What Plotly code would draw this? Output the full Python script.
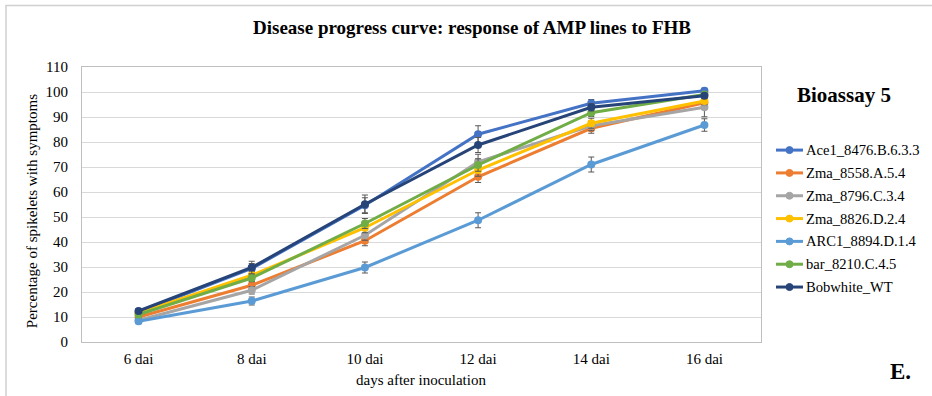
import plotly.graph_objects as go

# Days after inoculation
days = ["6 dai", "8 dai", "10 dai", "12 dai", "14 dai", "16 dai"]

# Percentage of spikelets with symptoms per line
ace1_8476 = [12.0, 29.4, 54.7, 83.1, 95.5, 100.5]
zma_8558 = [10.0, 22.7, 40.5, 66.1, 85.5, 95.7]
zma_8796 = [8.7, 20.7, 42.7, 72.1, 86.5, 93.9]
zma_8826 = [11.6, 26.7, 45.7, 68.8, 87.5, 96.4]
arc1_8894 = [8.3, 16.4, 29.8, 48.7, 71.0, 86.8]
bar_8210 = [11.0, 25.6, 47.4, 70.8, 91.7, 99.0]
bobwhite_wt = [12.4, 29.8, 55.1, 78.8, 93.9, 98.5]

# Standard errors
ace1_8476_se = [1.0, 2.0, 3.0, 3.4, 1.5, 1.0]
zma_8558_se = [1.0, 1.5, 2.0, 2.3, 2.0, 1.5]
zma_8796_se = [1.0, 1.5, 2.0, 3.0, 2.0, 3.8]
zma_8826_se = [1.0, 1.5, 2.0, 2.5, 2.0, 1.5]
arc1_8894_se = [1.0, 1.6, 2.2, 3.0, 3.0, 2.5]
bar_8210_se = [1.0, 1.5, 2.0, 2.5, 1.5, 1.0]
bobwhite_wt_se = [1.0, 2.5, 3.7, 3.0, 1.5, 1.0]

series = [
    ("Ace1_8476.B.6.3.3", ace1_8476, ace1_8476_se, "#4472C4"),
    ("Zma_8558.A.5.4", zma_8558, zma_8558_se, "#ED7D31"),
    ("Zma_8796.C.3.4", zma_8796, zma_8796_se, "#A5A5A5"),
    ("Zma_8826.D.2.4", zma_8826, zma_8826_se, "#FFC000"),
    ("ARC1_8894.D.1.4", arc1_8894, arc1_8894_se, "#5B9BD5"),
    ("bar_8210.C.4.5", bar_8210, bar_8210_se, "#70AD47"),
    ("Bobwhite_WT", bobwhite_wt, bobwhite_wt_se, "#264478"),
]

FONT = "Liberation Serif, Times New Roman, serif"

# Plot area occupies x 82..761, y 67..341.7 (pixels)
L, R, T, B = 82, 761, 67, 341.7
W, H = R - L, B - T

def px(x):
    return (x - L) / W

def py(y):
    return (B - y) / H

fig = go.Figure()
for i, (name, vals, se, color) in enumerate(series):
    fig.add_trace(go.Scatter(
        x=days, y=vals, name=name, mode="lines+markers",
        showlegend=False,
        line=dict(color=color, width=3),
        marker=dict(color=color, size=8, symbol="circle"),
        error_y=dict(type="data", array=se, visible=True,
                     color="#595959", thickness=1, width=3),
    ))

annotations = [
    dict(text="<b>Disease progress curve: response of AMP lines to FHB</b>",
         x=px(472.5), y=py(28), xref="paper", yref="paper",
         xanchor="center", yanchor="middle", showarrow=False,
         font=dict(family=FONT, size=19, color="#000000")),
    dict(text="Percentage of spikelets with symptoms",
         x=px(32), y=py(211), xref="paper", yref="paper",
         xanchor="center", yanchor="middle", showarrow=False, textangle=-90,
         font=dict(family=FONT, size=15, color="#000000")),
    dict(text="days after inoculation",
         x=px(421), y=py(380), xref="paper", yref="paper",
         xanchor="center", yanchor="middle", showarrow=False,
         font=dict(family=FONT, size=15, color="#000000")),
    dict(text="<b>Bioassay 5</b>",
         x=px(844), y=py(95), xref="paper", yref="paper",
         xanchor="center", yanchor="middle", showarrow=False,
         font=dict(family=FONT, size=21, color="#000000")),
    dict(text="<b>E.</b>",
         x=px(900), y=py(371), xref="paper", yref="paper",
         xanchor="center", yanchor="middle", showarrow=False,
         font=dict(family=FONT, size=23, color="#000000")),
]

shapes = [
    dict(type="rect", xref="paper", yref="paper",
         x0=px(6), x1=px(940), y0=py(404), y1=py(5.5),
         line=dict(color="#D0D0D0", width=1.5), fillcolor="rgba(0,0,0,0)",
         layer="below"),
]

# Legend key: a short line with a dot, followed by the series name
key_x0, key_x1, text_x = 776, 803, 804
key_top, key_step = 150, 22.8
for i, (name, _, _, color) in enumerate(series):
    yc = key_top + i * key_step
    shapes.append(dict(type="line", xref="paper", yref="paper",
                       x0=px(key_x0), x1=px(key_x1), y0=py(yc), y1=py(yc),
                       line=dict(color=color, width=3)))
    cx, r = (key_x0 + key_x1) / 2, 3.5
    shapes.append(dict(type="circle", xref="paper", yref="paper",
                       x0=px(cx - r), x1=px(cx + r), y0=py(yc + r), y1=py(yc - r),
                       line=dict(color=color, width=1), fillcolor=color))
    annotations.append(dict(text=name, x=px(text_x), y=py(yc),
                            xref="paper", yref="paper",
                            xanchor="left", yanchor="middle", showarrow=False,
                            font=dict(family=FONT, size=14.6, color="#000000")))

fig.update_layout(
    width=932, height=396,
    margin=dict(l=L, r=932 - R, t=T, b=396 - B, pad=0),
    paper_bgcolor="white", plot_bgcolor="white",
    font=dict(family=FONT, size=15, color="#000000"),
    showlegend=False,
    xaxis=dict(
        type="category", range=[-0.5, 5.5],
        showgrid=False, showline=True, linecolor="#BFBFBF", linewidth=1,
        mirror=True, ticks="", ticklabelstandoff=3,
        tickfont=dict(family=FONT, size=15, color="#000000"),
        zeroline=False,
    ),
    yaxis=dict(
        range=[0, 110], tickmode="linear", tick0=0, dtick=10,
        showgrid=True, gridcolor="#D9D9D9", gridwidth=1,
        showline=True, linecolor="#BFBFBF", linewidth=1, mirror=True,
        ticks="", ticklabelstandoff=10,
        tickfont=dict(family=FONT, size=15, color="#000000"),
        zeroline=False,
    ),
    annotations=annotations,
    shapes=shapes,
)

fig.write_html("out.html")
